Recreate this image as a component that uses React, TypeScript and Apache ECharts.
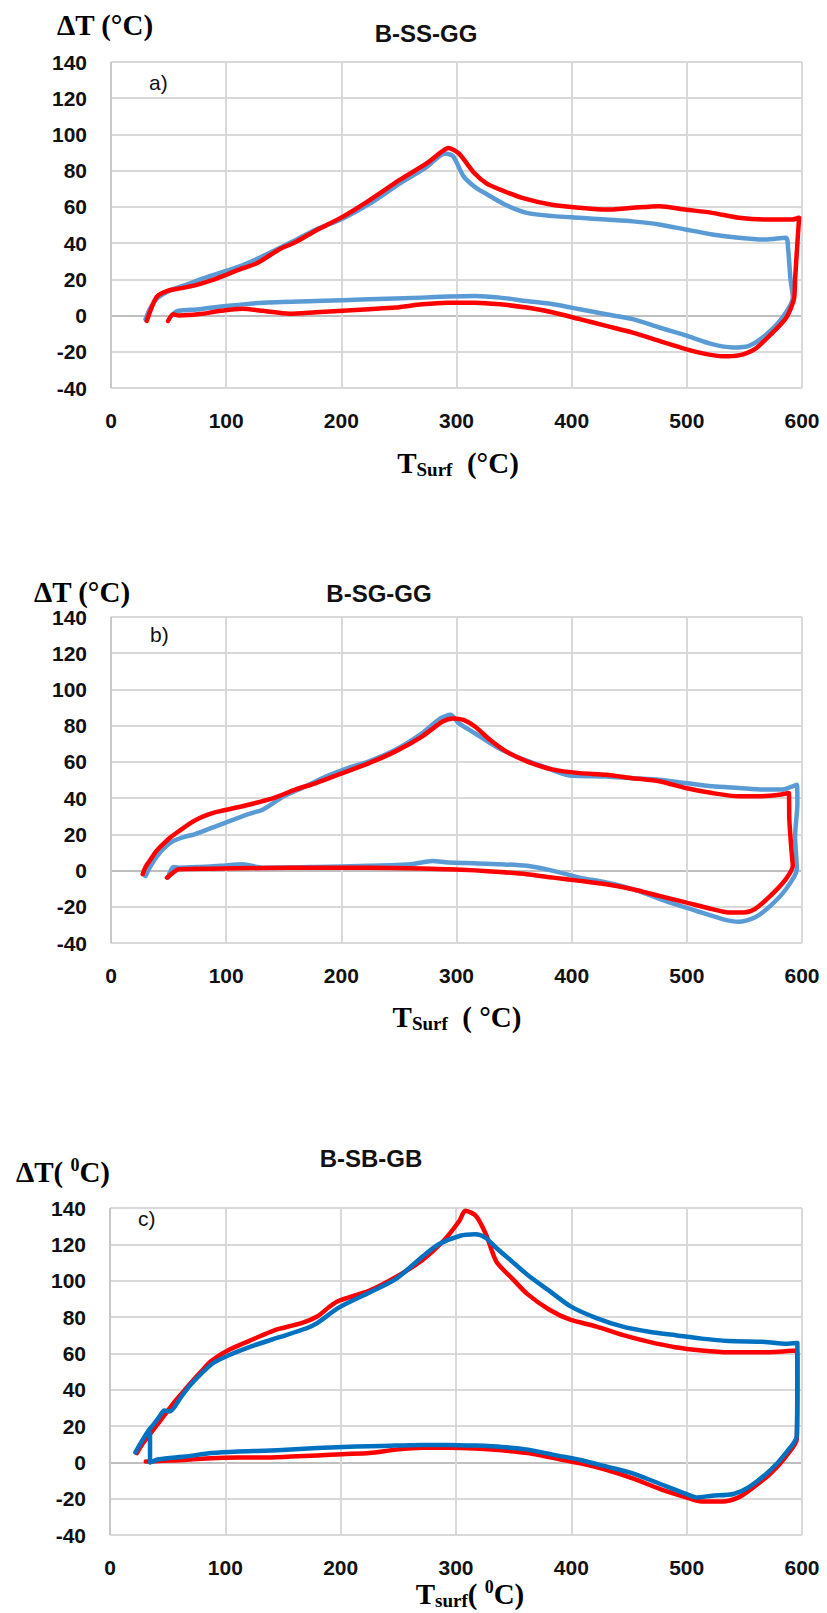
import React, { useEffect, useRef } from "react";
import * as echarts from "echarts";

// ---- Data (x = T_surf in °C, y = ΔT in °C) ----
const xTicks = [0, 100, 200, 300, 400, 500, 600];
const yTicks = [-40, -20, 0, 20, 40, 60, 80, 100, 120, 140];

const ssggRed: [number, number][] = [
  [31, -3], [35, 4], [40, 10.5], [49, 13.6], [60, 15], [72, 16.5], [85, 19], [100, 22.5], [114, 26], [127, 29],
  [146, 36.5], [160, 40.5], [178, 47], [201, 54.5], [224, 63.5], [251, 75], [274, 84], [286, 90], [293, 92.5],
  [302, 89.5], [315, 79], [326, 73], [338, 69.5], [357, 65], [384, 61], [407, 59.5], [430, 58.5], [453, 59.5],
  [476, 60.4], [499, 58.5], [522, 56.7], [545, 54], [568, 53], [591, 53], [597.5, 54],
  [596, 40], [594, 20], [593, 9], [586, -1.5], [572, -11], [559, -18.5], [545, -22], [531, -22.5], [515, -21],
  [499, -18.5], [476, -14], [453, -9.4], [430, -5.7], [407, -2], [384, 1.7], [361, 4.4], [338, 6.2], [316, 7.1],
  [293, 7.1], [270, 6.2], [247, 4.4], [224, 3.5], [201, 2.6], [178, 1.8], [155, 1], [132, 2.6], [114, 3.8],
  [95, 2.6], [77, 0.8], [59, 0], [54, 0.7], [49.5, -3],
];

const ssggBlue: [number, number][] = [
  [30, -2], [34, 4], [40, 9.5], [50, 13.5], [63, 16.5], [80, 20.5], [100, 24.6], [115, 28], [132, 32.8], [155, 40],
  [178, 47.5], [201, 53.5], [224, 61.5], [251, 73], [274, 82], [290, 89.5], [297, 88], [306, 77], [316, 71],
  [325, 67.5], [343, 61], [361, 56.7], [384, 54.9], [407, 54], [430, 53], [453, 52], [476, 50.3], [499, 47.5],
  [522, 44.8], [545, 43], [568, 42], [586, 43], [588, 36.5], [590, 20], [592, 10],
  [582, -2], [568, -11], [554, -16.7], [540, -17.6], [522, -15.8], [499, -11], [476, -6.6], [453, -2],
  [430, 0.7], [407, 3.5], [384, 6.2], [361, 8], [338, 9.9], [316, 10.8], [293, 10.5], [270, 9.9], [224, 9],
  [178, 8], [132, 7.1], [100, 5.3], [77, 3.5], [59, 2.6], [55, 1.5], [53, 0],
];

const sgggRed: [number, number][] = [
  [27.5, -2], [30, 2], [33.5, 5.3], [39, 10.5], [45, 14.4], [52, 18.5], [59, 21.8], [68, 25.8], [77, 29],
  [86, 31.3], [95, 32.8], [114, 35.5], [141, 40], [160, 44.7], [178, 48.3], [201, 53.8], [224, 59.3],
  [247, 65.8], [270, 74], [288, 82.3], [297, 84], [306, 83.2], [316, 79.5], [329, 72.2], [343, 65.8],
  [361, 60.3], [384, 55.7], [407, 53.8], [430, 52.9], [453, 51], [476, 49.3], [499, 45.6], [522, 42.8],
  [545, 41], [563, 41], [582, 42], [588.5, 42.8], [589, 28], [591, 10], [592, 2.6],
  [586, -4.7], [572.5, -14], [559, -21.3], [549.5, -23.1], [536, -23.1], [522, -21.3], [499, -17.6],
  [476, -14], [453, -10.3], [430, -7.6], [407, -5.7], [384, -3.9], [361, -2], [338, -0.8], [316, 0.1],
  [293, 0.7], [270, 1.2], [224, 1.6], [178, 1.6], [132, 1.4], [86, 1], [59, 0.7], [54, -1.1], [48.6, -3.9],
];

const sgggBlue: [number, number][] = [
  [30, -3], [34, 2], [40, 8], [47, 13], [54, 16.3], [63, 18.5], [72.5, 20], [95, 25.4], [118, 30.9],
  [132, 33.7], [150, 41], [169, 46.5], [187, 52], [205.5, 56.6], [224, 60.3], [247, 66.7], [270, 75.8],
  [286, 84], [295, 86], [302, 81.3], [316, 75.8], [334, 68.5], [352, 63], [375, 57.5], [398, 52.5],
  [430, 52], [453, 51], [476, 50.2], [499, 48.3], [522, 46.5], [545, 45.6], [568, 44.7], [582, 44.7],
  [595.5, 47.4], [596, 37], [594, 19], [595.5, 0.7],
  [586, -10.3], [572.5, -19.5], [559, -25.9], [545, -28.3], [531, -26.8], [508, -22.2], [485, -17.6],
  [453, -10.3], [430, -6.6], [407, -3.9], [384, -0.2], [361, 2.6], [338.5, 3.5], [316, 4], [293, 4.4],
  [279, 5.3], [260.5, 3.5], [224, 2.6], [178, 2], [132, 1.6], [114, 3.5], [95, 2.6], [77, 2], [59, 1.6],
  [54, 2], [49.5, -3.9],
];

const sbgbRed: [number, number][] = [
  [23.3, 5.1], [28, 10], [33.4, 14.5], [42.5, 22], [49, 27.5], [56, 33.3], [63, 38.5], [70, 43.7], [79, 50],
  [88, 55.9], [102, 61.6], [125, 68], [143, 72.8], [166, 76.6], [180, 80.4], [190, 85.5], [198, 88.8],
  [225, 94.5], [248, 102], [271, 111.4], [289, 121.8], [303, 133], [308, 138.5], [317, 135.9], [326, 125.5],
  [335, 110.5], [349, 101], [362, 92.6], [381, 84], [399, 78.5], [422, 74.7], [445, 70], [467.5, 66.3],
  [490, 63.4], [513, 61.6], [536, 60.6], [568, 60.6], [595.5, 61.6], [596, 50], [595.5, 12.7],
  [586, 3.2], [572.6, -6.2], [554, -15.6], [545, -19.3], [531.5, -21.6], [513, -21.6], [499.5, -19.3],
  [476.6, -14.6], [453.8, -9], [431, -4.3], [408, -0.6], [385, 2.3], [362.4, 5.1], [339.6, 6.6],
  [316.7, 7.6], [293.9, 8], [271, 8], [248, 7], [225, 5.1], [202, 4.5], [179.6, 3.8], [156.8, 3.2],
  [134, 2.6], [111, 2.6], [88, 2.3], [65, 1.3], [42.5, 0.8], [31, 0.4],
];

const sbgbBlue: [number, number][] = [
  [22, 5.5], [27, 11], [33.4, 17.5], [38, 21], [42.5, 24.9], [47, 28.5], [52, 28], [60.8, 35.2], [70, 42.8],
  [88, 54], [102, 58.7], [125, 64.4], [147.6, 69], [170.5, 73.8], [179.6, 76.6], [198, 85], [225, 93.5],
  [248, 101], [271, 113.3], [284.7, 119.9], [303, 124.6], [316.7, 125.5], [325.8, 123.6], [335, 118],
  [348.7, 110.5], [362.4, 103], [380.7, 94.5], [399, 86], [421.8, 79.4], [444.7, 74.7], [467.5, 71.9],
  [490.4, 70], [513, 68.1], [536, 66.8], [568, 66.3], [586, 65.3], [596, 65.7], [595.5, 14.5],
  [586, 5.1], [572.6, -4.3], [554, -13.7], [540.6, -17.4], [522, -18.4], [508.6, -19.3], [499.5, -17.4],
  [476.6, -11.8], [453.8, -6.2], [431, -2.4], [408, 1.3], [385, 4.1], [362.4, 7], [339.6, 8.5],
  [316.7, 9.2], [293.9, 9.6], [271, 9.6], [248, 9.2], [225, 8.8], [202, 8.5], [179.6, 7.9], [156.8, 7],
  [134, 6.4], [111, 6], [88, 5.1], [65, 3.2], [42.5, 1.7], [34.7, 0], [34.7, 16],
];

const titles = ["B-SS-GG", "B-SG-GG", "B-SB-GB"];
const panelTags = ["a)", "b)", "c)"];

const RED = "#ff0000";
const BLUE_LIGHT = "#5b9bd5";
const BLUE_DARK = "#0070c0";
const SANS = "'Liberation Sans', Arial, sans-serif";
const SERIF = "'Liberation Serif', 'Times New Roman', serif";

export default function App() {
  const ref = useRef<HTMLDivElement>(null);

  useEffect(() => {
    if (!ref.current) return;
    const chart = echarts.init(ref.current, null, { renderer: "svg" });

    const grids = [
      { left: 111, right: 25, top: 62, height: 326 },
      { left: 111, right: 25, top: 617, height: 326 },
      { left: 110, right: 25, top: 1208, height: 327 },
    ];

    const labelStyle = {
      fontSize: 21,
      fontWeight: "bold" as const,
      color: "#111",
      fontFamily: SANS,
    };

    const yLineColors = yTicks.map((t) => (t === 0 ? "#bfbfbf" : "#d9d9d9"));
    const xLineColors = xTicks.map((t) => (t === 0 ? "#c8c8c8" : "#d9d9d9"));

    const xAxis = grids.map((_, i) => ({
      type: "value",
      gridIndex: i,
      min: xTicks[0],
      max: xTicks[xTicks.length - 1],
      interval: 100,
      axisLine: { show: false },
      axisTick: { show: false },
      axisLabel: { ...labelStyle, margin: 22 },
      splitLine: { show: true, lineStyle: { color: xLineColors, width: 2 } },
    }));

    const yAxis = grids.map((_, i) => ({
      type: "value",
      gridIndex: i,
      min: yTicks[0],
      max: yTicks[yTicks.length - 1],
      interval: 20,
      axisLine: { show: false },
      axisTick: { show: false },
      axisLabel: { ...labelStyle, margin: 24 },
      splitLine: { show: true, lineStyle: { color: yLineColors, width: 2 } },
    }));

    const mk = (data: [number, number][], idx: number, color: string, z: number) => ({
      type: "line",
      xAxisIndex: idx,
      yAxisIndex: idx,
      data,
      showSymbol: false,
      smooth: 0.25,
      z,
      lineStyle: { color, width: 4.5, join: "round", cap: "round" },
      emphasis: { disabled: true },
    });

    const series = [
      mk(ssggBlue, 0, BLUE_LIGHT, 2),
      mk(ssggRed, 0, RED, 3),
      mk(sgggBlue, 1, BLUE_LIGHT, 2),
      mk(sgggRed, 1, RED, 3),
      mk(sbgbRed, 2, RED, 2),
      mk(sbgbBlue, 2, BLUE_DARK, 3),
    ];

    const serifTok = (size: number, extra: any = {}) => ({
      fontFamily: SERIF,
      fontWeight: "bold",
      fontSize: size,
      fill: "#000",
      lineHeight: 32,
      ...extra,
    });

    const richSet = {
      t: serifTok(29),
      sub: serifTok(19, { lineHeight: 20, verticalAlign: "bottom" }),
      sup: serifTok(18, { lineHeight: 20, verticalAlign: "top" }),
    };

    const txt = (x: number, y: number, text: string, opts: any = {}) => ({
      type: "text",
      x,
      y,
      silent: true,
      style: {
        text,
        align: "center",
        verticalAlign: "middle",
        fill: "#000",
        ...opts,
      },
    });

    const graphic: any[] = [
      // titles
      txt(426, 33, titles[0], { fontFamily: SANS, fontWeight: "bold", fontSize: 24, fill: "#111" }),
      txt(379, 593, titles[1], { fontFamily: SANS, fontWeight: "bold", fontSize: 24, fill: "#111" }),
      txt(371, 1158, titles[2], { fontFamily: SANS, fontWeight: "bold", fontSize: 24, fill: "#111" }),
      // y-axis titles
      txt(105, 25, "{t|ΔT (°C)}", { rich: richSet }),
      txt(82, 592, "{t|ΔT (°C)}", { rich: richSet }),
      txt(63, 1172, "{t|ΔT( }{sup|0}{t|C)}", { rich: richSet }),
      // x-axis titles
      txt(458, 463, "{t|T}{sub|Surf}{t|  (°C)}", { rich: richSet }),
      txt(457, 1017, "{t|T}{sub|Surf}{t|  ( °C)}", { rich: richSet }),
      txt(470, 1594, "{t|T}{sub|surf}{t|( }{sup|0}{t|C)}", { rich: richSet }),
      // panel tags
      txt(149, 82, panelTags[0], { align: "left", fontFamily: SANS, fontSize: 21, fill: "#111" }),
      txt(150, 634, panelTags[1], { align: "left", fontFamily: SANS, fontSize: 21, fill: "#111" }),
      txt(138, 1218, panelTags[2], { align: "left", fontFamily: SANS, fontSize: 21, fill: "#111" }),
    ];

    chart.setOption({
      animation: false,
      backgroundColor: "#ffffff",
      grid: grids,
      xAxis,
      yAxis,
      series,
      graphic,
    });

    return () => chart.dispose();
  }, []);

  return (
    <div
      ref={ref}
      style={{ position: "absolute", left: 0, top: 0, width: 827, height: 1613 }}
    />
  );
}
